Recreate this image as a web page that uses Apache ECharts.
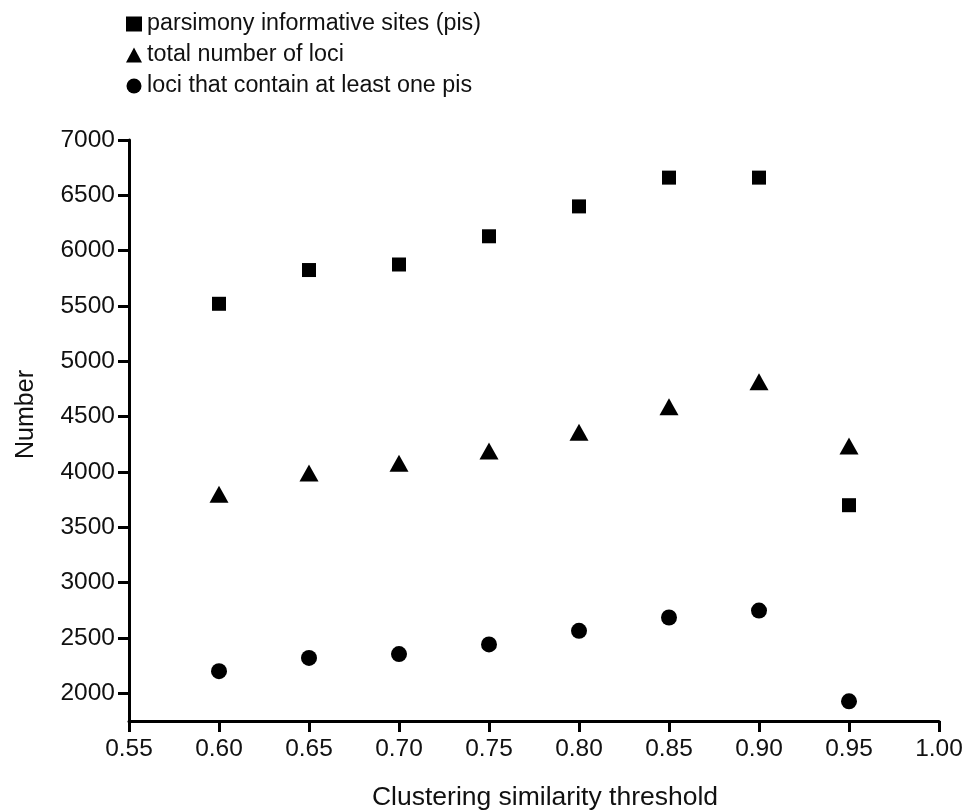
<!DOCTYPE html>
<html>
<head>
<meta charset="utf-8">
<script src="https://cdn.jsdelivr.net/npm/echarts@6/dist/echarts.min.js"></script>
<style>
html,body{margin:0;padding:0;background:#fff;}
#c{width:980px;height:812px;}
</style>
</head>
<body>
<div id="c"></div>
<script>
const thresholds = [0.60, 0.65, 0.70, 0.75, 0.80, 0.85, 0.90, 0.95];
const pisSites = [5520, 5825, 5875, 6130, 6400, 6660, 6660, 3700];
const totalLoci = [3800, 3990, 4080, 4190, 4360, 4590, 4815, 4235];
const lociWithPis = [2200, 2320, 2355, 2442, 2565, 2685, 2748, 1928];
const yTicks = [2000, 2500, 3000, 3500, 4000, 4500, 5000, 5500, 6000, 6500, 7000];
const seriesNames = ['parsimony informative sites (pis)', 'total number of loci', 'loci that contain at least one pis'];

const FONT = "'Liberation Sans', Arial, Helvetica, sans-serif";
const pair = (vals) => thresholds.map((x, i) => [x, vals[i]]);

const chart = echarts.init(document.getElementById('c'), null, {renderer: 'canvas'});
chart.setOption({
  backgroundColor: '#fff',
  animation: false,
  textStyle: {fontFamily: FONT, color: '#111'},
  legend: {
    orient: 'vertical',
    left: 121,
    top: 7,
    itemGap: 7,
    itemWidth: 16,
    itemHeight: 15,
    textStyle: {fontFamily: FONT, fontSize: 23.3, color: '#111', lineHeight: 24},
    data: seriesNames
  },
  grid: {left: 129, right: 41, top: 140, bottom: 91, containLabel: false, outerBoundsMode: 'none'},
  xAxis: {
    type: 'value',
    min: 0.55,
    max: 1.00,
    interval: 0.05,
    name: 'Clustering similarity threshold',
    nameLocation: 'middle',
    nameGap: 63,
    nameTextStyle: {fontFamily: FONT, fontSize: 26.5, color: '#111', padding: [0, 0, 0, 22]},
    axisLine: {show: true, lineStyle: {color: '#000', width: 3}},
    axisTick: {show: true, inside: false, length: 11, lineStyle: {color: '#000', width: 3}},
    axisLabel: {fontFamily: FONT, fontSize: 24.5, color: '#111', margin: 16,
      formatter: (v) => v.toFixed(2)},
    splitLine: {show: false}
  },
  yAxis: {
    type: 'value',
    min: 1750,
    max: 7000,
    name: 'Number',
    nameLocation: 'middle',
    nameGap: 90,
    nameRotate: 90,
    nameTextStyle: {fontFamily: FONT, fontSize: 25, color: '#111', padding: [0, 0, 0, 32]},
    axisLine: {show: true, lineStyle: {color: '#000', width: 3}},
    axisTick: {show: true, inside: false, length: 11, lineStyle: {color: '#000', width: 3}, customValues: yTicks},
    axisLabel: {fontFamily: FONT, fontSize: 24.5, color: '#111', margin: 14, customValues: yTicks,
      formatter: (v) => String(Math.round(v))},
    splitLine: {show: false}
  },
  series: [
    {name: seriesNames[0], type: 'scatter', symbol: 'rect', symbolSize: 14,
      itemStyle: {color: '#000', opacity: 1}, data: pair(pisSites)},
    {name: seriesNames[1], type: 'scatter', symbol: 'triangle', symbolSize: [19, 17],
      itemStyle: {color: '#000', opacity: 1}, data: pair(totalLoci)},
    {name: seriesNames[2], type: 'scatter', symbol: 'circle', symbolSize: 16,
      itemStyle: {color: '#000', opacity: 1}, data: pair(lociWithPis)}
  ]
});
</script>
</body>
</html>
